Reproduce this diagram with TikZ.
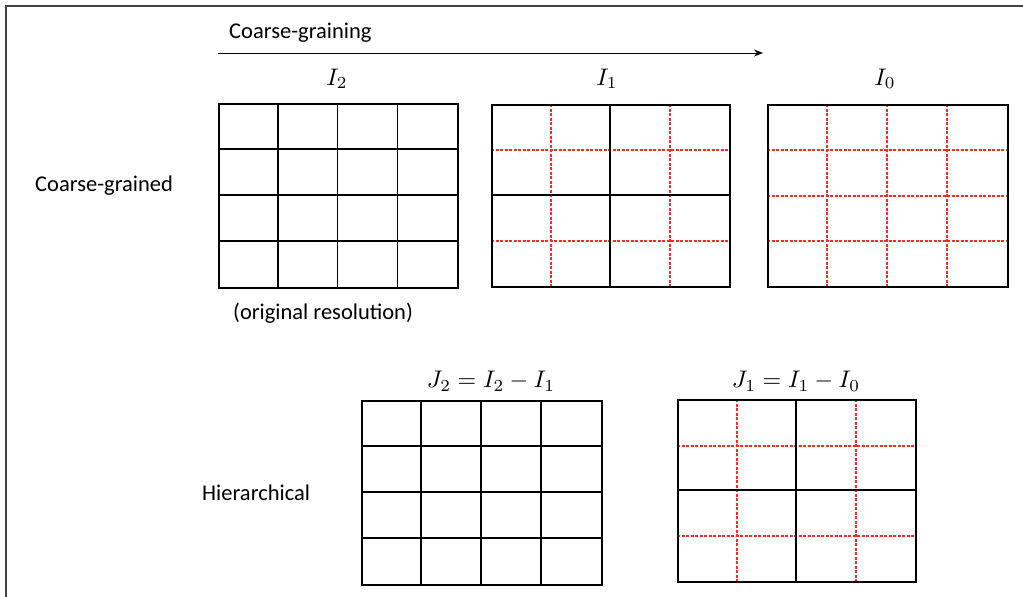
\documentclass[tikz,border=0pt]{standalone}
\usepackage[no-math]{fontspec}
\setmainfont{Carlito}
\usetikzlibrary{arrows.meta}
\begin{document}
\begin{tikzpicture}[x=1pt,y=-1pt,
  frameline/.style={line width=1.5pt,draw=black!75},
  gridbox/.style={draw,line width=1.8pt,minimum width=239pt,minimum height=184pt,inner sep=0pt,anchor=north west},
  solidline/.style={line width=1.5pt},
  redline/.style={draw=red!85,line width=1.4pt,dash pattern=on 3pt off 1.5pt},
  lbl/.style={font=\fontsize{22.5}{27}\selectfont,inner sep=0pt,anchor=west},
  mlbl/.style={inner sep=0pt}]
\useasboundingbox (0,0) rectangle (1023,597);
\draw[frameline] (6,597) -- (6,6) -- (1023,6);

% arrow and labels
\node[lbl] (tcg) at (229,33) {Coarse-graining};
\coordinate (a0) at (218,53);
\coordinate (a1) at (763,53);
\draw[line width=1pt,-{Stealth[length=9pt,width=7pt]}] (a0) -- (a1);

\node[mlbl] (lI2) at (337,79) {\scalebox{2.4}{$I_2$}};
\node[mlbl] (lI1) at (607,79) {\scalebox{2.4}{$I_1$}};
\node[mlbl] (lI0) at (885,79) {\scalebox{2.4}{$I_0$}};
\node[mlbl] (lJ2) at (491,381) {\scalebox{2.4}{$J_2 = I_2 - I_1$}};
\node[mlbl] (lJ1) at (796,381) {\scalebox{2.4}{$J_1 = I_1 - I_0$}};

\node[lbl] (tcgd) at (35,186) {Coarse-grained};
\node[lbl] (torig) at (233,313) {(original resolution)};
\node[lbl] (thier) at (202,493) {Hierarchical};

% I2: full solid 4x4
\begin{scope}[shift={(218,103)}]
  \foreach \i in {1,2,3} {
    \draw[solidline] (\i*59.75,0) -- (\i*59.75,184);
    \draw[solidline] (0,\i*46) -- (239,\i*46);
  }
  \node[gridbox] (gI2) at (0,0) {};
\end{scope}

% I1: solid 2x2, red dashed quarters
\foreach \x in {551,670} \draw[redline] (\x,104) -- (\x,286);
\foreach \y in {150,241} \draw[redline] (491,\y) -- (729,\y);
\draw[solidline] (610,104) -- (610,286);
\draw[solidline] (491,195) -- (729,195);
\node[gridbox,minimum width=238pt,minimum height=182pt] (gI1) at (491,104) {};

% I0: red dashed 4x4
\foreach \x in {827,887,947} \draw[redline] (\x,104) -- (\x,286);
\foreach \y in {150,196,241} \draw[redline] (767,\y) -- (1007,\y);
\node[gridbox,minimum width=240pt,minimum height=182pt] (gI0) at (767,104) {};

% J2: full solid 4x4
\begin{scope}[shift={(361,400)}]
  \foreach \i in {1,2,3} {
    \draw[solidline] (\i*60,0) -- (\i*60,184);
    \draw[solidline] (0,\i*46) -- (240,\i*46);
  }
  \node[gridbox,minimum width=240pt] (gJ2) at (0,0) {};
\end{scope}

% J1: solid 2x2, red dashed quarters
\foreach \x in {737,856} \draw[redline] (\x,399) -- (\x,581);
\foreach \y in {446,536} \draw[redline] (677,\y) -- (915,\y);
\draw[solidline] (796,399) -- (796,581);
\draw[solidline] (677,490) -- (915,490);
\node[gridbox,minimum width=238pt,minimum height=182pt] (gJ1) at (677,399) {};
\end{tikzpicture}
\end{document}
